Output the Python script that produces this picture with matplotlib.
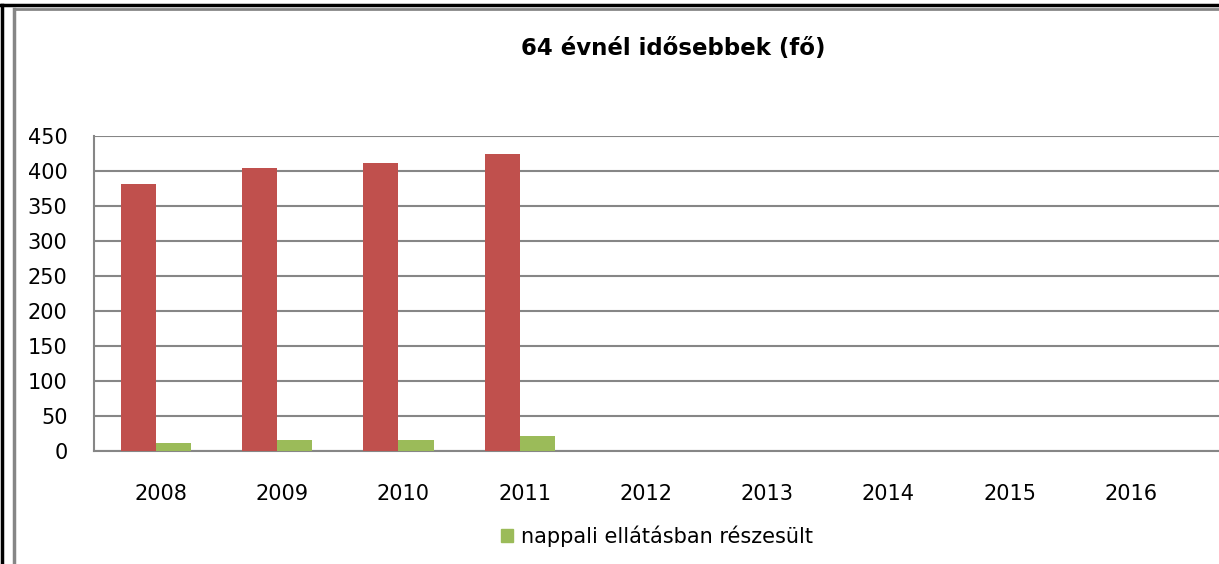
import matplotlib
matplotlib.use("Agg")
import matplotlib.pyplot as plt
import matplotlib.transforms as mtransforms
from matplotlib.lines import Line2D
from matplotlib.patches import Patch
import numpy as np

W, H = 1219, 564

years = ["2008", "2009", "2010", "2011", "2012", "2013", "2014", "2015", "2016"]
idosebbek = [381, 404, 411, 424, 0, 0, 0, 0, 0]
nappali = [12, 16, 16, 21, 0, 0, 0, 0, 0]
y_ticks = [0, 50, 100, 150, 200, 250, 300, 350, 400, 450]

RED = "#C0504D"
GREEN = "#9BBB59"
GRID = "#868686"

plt.rcParams["font.family"] = ["DejaVu Sans"]

fig = plt.figure(figsize=(W / 100, H / 100), dpi=100)
# plot area: left edge at x=94, 0 at y=451, 450 at y=136; ten slots of ~121.5 px
ax = fig.add_axes([94 / W, (H - 451) / H, 1213 / W, (451 - 136) / H])

x = np.arange(len(years))
bw = 0.29
ax.bar(x - bw / 2 + 0.01, idosebbek, width=bw, color=RED, zorder=3)
ax.bar(x + bw / 2 + 0.01, nappali, width=bw, color=GREEN, zorder=3)

ax.set_xlim(-0.5, 9.5)
ax.set_ylim(0, 450)
ax.set_yticks(y_ticks)
ax.set_xticks(x)
ax.set_xticklabels(years)
ax.tick_params(axis="both", length=0, labelsize=15, colors="black")
ax.tick_params(axis="x", pad=24)
ax.tick_params(axis="y", pad=19)
shift = mtransforms.ScaledTranslation(6 / 100, 0, fig.dpi_scale_trans)
for lbl in ax.get_xticklabels():
    lbl.set_transform(lbl.get_transform() + shift)
ax.yaxis.grid(True, color=GRID, lw=1.5, zorder=0)
ax.set_axisbelow(True)
for side in ("top", "right"):
    ax.spines[side].set_visible(False)
for side in ("left", "bottom"):
    ax.spines[side].set_color(GRID)
    ax.spines[side].set_linewidth(1.5)

fig.text(673 / W, 1 - 49 / H, "64 évnél idősebbek (fő)", ha="center", va="center",
         fontsize=16.5, fontweight="bold")

fig.legend(handles=[Patch(color=GREEN, label="nappali ellátásban részesült")],
           loc="center", bbox_to_anchor=(657 / W, 1 - 536 / H), frameon=False,
           fontsize=15, handlelength=0.6, handleheight=0.6, handletextpad=0.4)

# outer frames of the sheet / chart
fig.add_artist(Line2D([0, 1], [1 - 5 / H, 1 - 5 / H], color="black", lw=2.5))
fig.add_artist(Line2D([1.5 / W, 1.5 / W], [0, 1 - 5 / H], color="black", lw=2.5))
fig.add_artist(Line2D([14 / W, 1], [1 - 8.5 / H, 1 - 8.5 / H], color=GRID, lw=2))
fig.add_artist(Line2D([14 / W, 14 / W], [0, 1 - 8.5 / H], color=GRID, lw=2.5))

fig.savefig("out.png", dpi=100)
